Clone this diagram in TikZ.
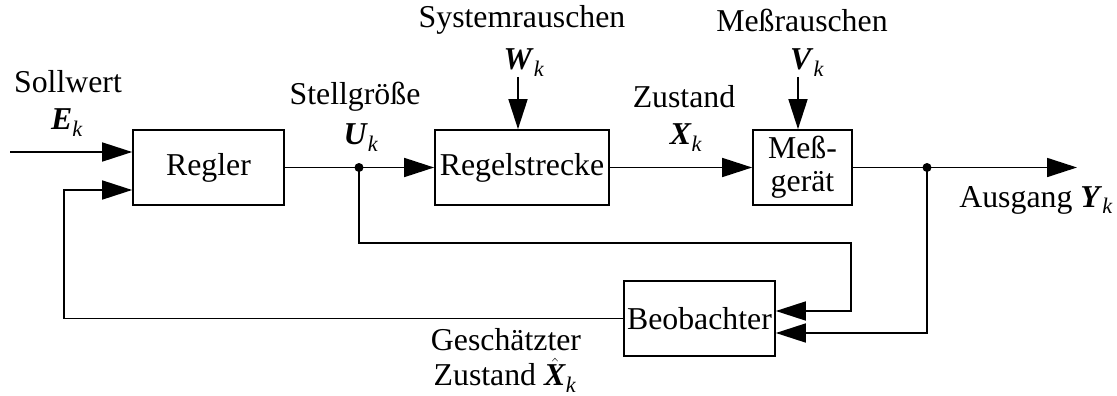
\documentclass[tikz,border=0pt]{standalone}
\usepackage{amsmath}
\usepackage{fontspec}
\setmainfont{Liberation Serif}
\usetikzlibrary{arrows.meta}
\newcommand{\bv}[1]{\textbf{\textit{#1}}}
\tikzset{
  x=1pt, y=-1pt,
  every node/.style={font=\fontsize{31.8}{37}\selectfont},
  blockbox/.style={draw, line width=1.7pt, minimum height=75pt, inner sep=0pt},
  lbl/.style={inner sep=0pt, align=center},
  conn/.style={line width=1.7pt},
  arr/.style={conn, -{Triangle[length=30pt,width=19pt]}},
  dotmark/.style={circle, fill=black, inner sep=0pt, minimum size=9pt},
}
\begin{document}
\begin{tikzpicture}
\useasboundingbox (0,0) rectangle (1117,396);
% blocks
\node[blockbox, minimum width=151pt] (regler) at (208.5,167.5) {Regler};
\node[blockbox, minimum width=174pt] (strecke) at (522,167.5) {Regelstrecke};
\node[blockbox, minimum width=99pt, align=center] (mess) at (802.5,167.5) {Meß-\\[-4pt]gerät};
\node[blockbox, minimum width=151pt] (beob) at (699.5,318.5) {Beobachter};
% labels
\node[lbl] (lsoll) at (68,82) {Sollwert};
\node[lbl] (lE) at (67,123) {$\bv{E}_{\textit{k}}$};
\node[lbl] (lstell) at (355,97) {Stellgröße};
\node[lbl] (lU) at (361,138) {$\bv{U}_{\textit{k}}$};
\node[lbl] (lsys) at (522,20) {Systemrauschen};
\node[lbl] (lW) at (524,63) {$\bv{W}_{\textit{k}}$};
\node[lbl] (lzust) at (684,97) {Zustand};
\node[lbl] (lX) at (686,138) {$\bv{X}_{\textit{k}}$};
\node[lbl] (lmess) at (802,20) {Meßrauschen};
\node[lbl] (lV) at (807,63) {$\bv{V}_{\textit{k}}$};
\node[lbl] (laus) at (1036,200) {Ausgang $\bv{Y}_{\textit{k}}$};
\node[lbl] (lgesch) at (506,340) {Geschätzter};
\node[lbl] (lgz) at (505,375) {Zustand $\hat{\bv{X}}_{\textit{k}}$};
% coordinates
\coordinate (in1) at (10,152);
\coordinate (wtop) at (518,77);
\coordinate (vtop) at (798,77);
\coordinate (out) at (1077,167.5);
\node[dotmark] (d1) at (359,167.5) {};
\node[dotmark] (d2) at (927,167.5) {};
\coordinate (fbl) at (64,318.5);
\coordinate (fbr1) at (851,243);
\coordinate (fbr2) at (927,333);
% connectors
\draw[arr] (in1) -- (in1 -| regler.west);
\draw[conn] (regler.east) -- (d1.center);
\draw[arr] (d1.center) -- (strecke.west);
\draw[arr] (strecke.east) -- (mess.west);
\draw[conn] (mess.east) -- (d2.center);
\draw[arr] (d2.center) -- (out);
\draw[arr] (wtop) -- (wtop |- strecke.north);
\draw[arr] (vtop) -- (vtop |- mess.north);
\draw[arr] (d1.center) |- (fbr1) -- (fbr1 |- 0,311) -- (beob.east |- 0,311);
\draw[arr] (d2.center) -- (fbr2) -- (beob.east |- fbr2);
\draw[arr] (beob.west) -- (fbl) -- (64,190) -- (regler.west |- 0,190);
\end{tikzpicture}
\end{document}
